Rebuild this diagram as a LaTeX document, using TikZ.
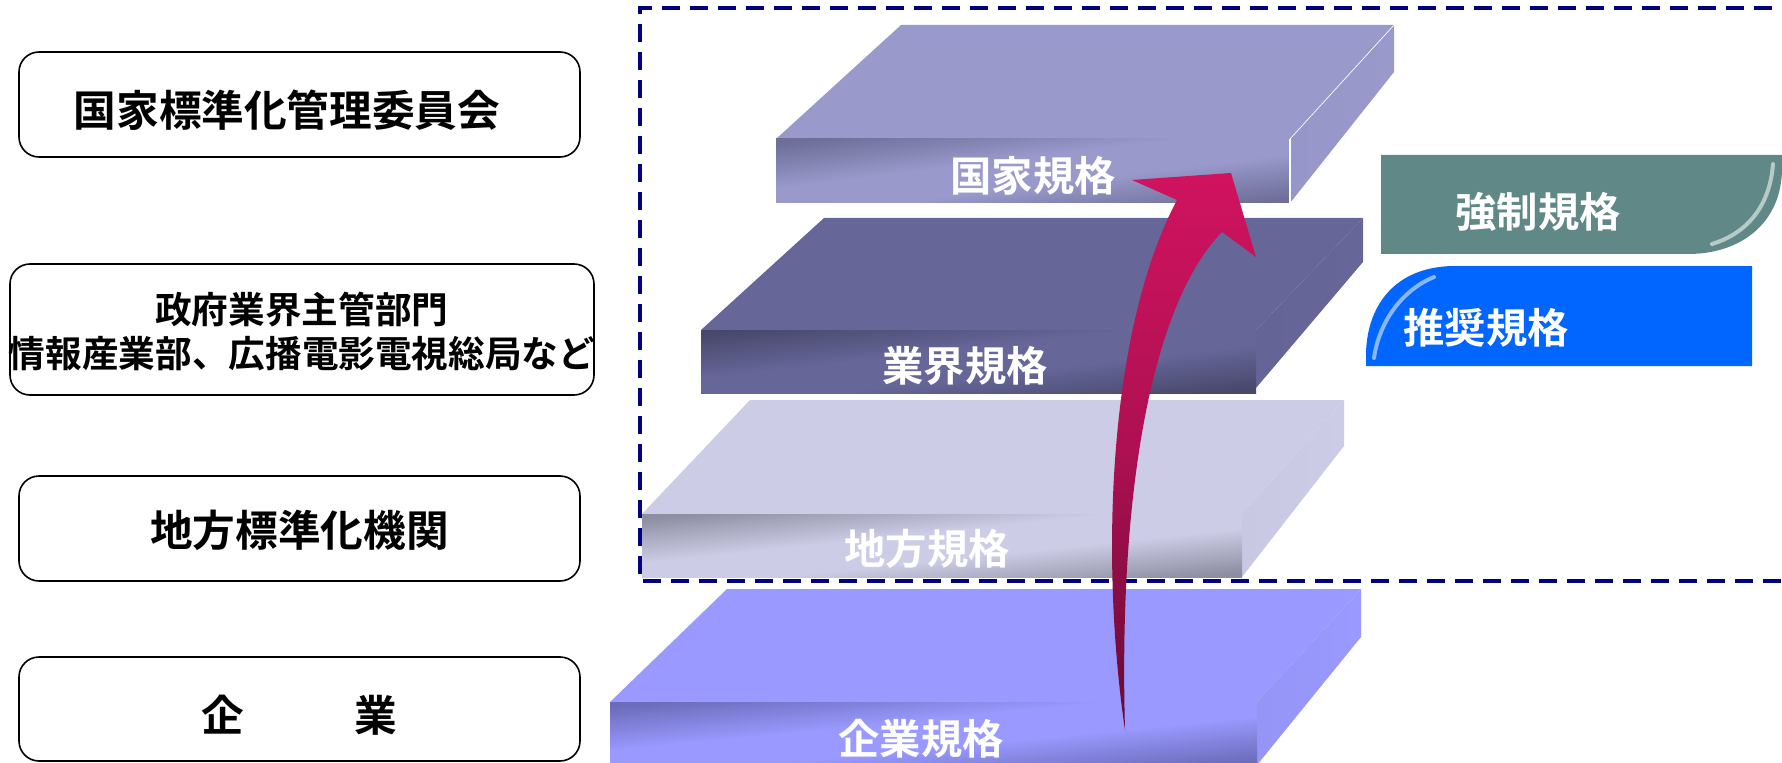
\documentclass[tikz,border=0pt]{standalone}
\usepackage{fontspec}
\setmainfont{Noto Sans CJK JP}
\newfontfamily\jpb{Noto Sans CJK JP Bold}
\definecolor{navy}{HTML}{000080}
\definecolor{sAtop}{HTML}{9999CC}
\definecolor{sAdark}{HTML}{6E6E98}
\definecolor{sAside}{HTML}{9696C8}
\definecolor{sBtop}{HTML}{666699}
\definecolor{sBdark}{HTML}{48486C}
\definecolor{sBside}{HTML}{646496}
\definecolor{sCtop}{HTML}{CCCCE6}
\definecolor{sCdark}{HTML}{8E8EA2}
\definecolor{sCside}{HTML}{C8C8E2}
\definecolor{sDtop}{HTML}{9999FF}
\definecolor{sDdark}{HTML}{6C6CBA}
\definecolor{sDside}{HTML}{9595F6}
\definecolor{teal1}{HTML}{608886}
\definecolor{teallight}{HTML}{B6CAC8}
\definecolor{blue1}{HTML}{0066FF}
\definecolor{bluelight}{HTML}{88B6FF}
\definecolor{arrtop}{HTML}{D0135F}
\definecolor{arrmid}{HTML}{AE1052}
\definecolor{arrbot}{HTML}{660A32}
\colorlet{faceD}{sAdark}
\colorlet{faceB}{sAtop}
\pgfdeclareverticalshading[faceD,faceB]{slabface}{100bp}{%
  color(0bp)=(faceD); color(17bp)=(faceD); color(42bp)=(faceB);
  color(58bp)=(faceB); color(83bp)=(faceD); color(100bp)=(faceD)}
\tikzset{
  lbox/.style={draw=black, line width=1.2pt, rounded corners=15pt, fill=white, inner sep=0pt},
  ltext/.style={font=\jpb\fontsize{32}{36}\selectfont, text=black, inner sep=0pt, align=center},
  stext/.style={font=\jpb\fontsize{31}{36}\selectfont, text=white, inner sep=0pt},
  dashbox/.style={draw=navy, line width=2.8pt, dash pattern=on 13.5pt off 7.5pt},
  seam/.style={draw=white, line width=1.2pt},
}
% front face of a slab: #1 = dark colour, #2 = base colour, (#3,#4) = top-left corner, #5 = width, #6 = height (px)
\newcommand{\frontface}[6]{%
  \begin{scope}
  \colorlet{faceD}{#1}\colorlet{faceB}{#2}%
  \shade[shading=slabface, shading angle=45,
         transform canvas={shift={(#3,#4)}, xscale=#5/100, yscale=#6/100}]
    (0,0) rectangle (100,100);
  \end{scope}}
\begin{document}
\begin{tikzpicture}[x=0.75pt,y=-0.75pt]
\useasboundingbox (0,0) rectangle (1782,763);
\clip (0,0) rectangle (1782,763);

% ---------- left boxes ----------
\node[lbox, minimum width=420.75pt, minimum height=78.75pt] (nat) at (299.5,104.5) {};
\node[ltext] (natT) at (287,110) {国家標準化管理委員会};
\node[lbox, minimum width=438pt, minimum height=98.25pt] (gov) at (302,329.5) {};
\node[ltext, font=\jpb\fontsize{27.5}{33}\selectfont] (govT) at (302,331)
      {政府業界主管部門\\情報産業部、広播電影電視総局など};
\node[lbox, minimum width=420.75pt, minimum height=78.75pt] (loc) at (299.5,528.5) {};
\node[ltext] (locT) at (299.5,530) {地方標準化機関};
\node[lbox, minimum width=420.75pt, minimum height=78pt] (ent) at (299.5,709) {};
\node[ltext] (entT) at (299.5,715) {企\hspace{83pt}業};

% ---------- slab 4 (企業規格) ----------
\fill[sDtop] (727,589) -- (1361,589) -- (1257,702) -- (610,702) -- cycle;
\shade[left color=sDside, right color=sDtop] (1257,702) -- (1361,589) -- (1361,637) -- (1257,765) -- cycle;
\frontface{sDdark}{sDtop}{610}{702}{647}{63}
\node[stext] (sd) at (921,739) {企業規格};

% ---------- slab 3 (地方規格) ----------
\fill[sCtop] (750,400) -- (1344,400) -- (1242,514) -- (642,514) -- cycle;
\shade[left color=sCside, right color=sCtop] (1242,514) -- (1344,400) -- (1344,446) -- (1242,577) -- cycle;
\frontface{sCdark}{sCtop}{642}{514}{600}{63}
\node[stext] (sc) at (927,549) {地方規格};

% ---------- slab 2 (業界規格) ----------
\fill[sBtop] (824,218) -- (1363,218) -- (1256,330) -- (701,330) -- cycle;
\shade[left color=sBside, right color=sBtop] (1256,330) -- (1363,218) -- (1363,262) -- (1256,388) -- cycle;
\frontface{sBdark}{sBtop}{701}{330}{555}{63}
\node[stext] (sb) at (965,366) {業界規格};

% ---------- slab 1 (国家規格) ----------
\fill[sAtop] (901,25) -- (1394,25) -- (1290,139) -- (776,139) -- cycle;
\shade[left color=sAside, right color=sAtop] (1290,139) -- (1394,25) -- (1394,72) -- (1290,203) -- cycle;
\frontface{sAdark}{sAtop}{776}{139}{514}{64}
\draw[seam] (1290,139) -- (1290,203);
\draw[white, line width=0.5pt] (1290,139) -- (1394,25);
\node[stext] (sa) at (1033,176) {国家規格};

% ---------- dashed frame ----------
\draw[dashbox] (1800,8) -- (640,8) -- (640,581) -- (1800,581);

% ---------- right boxes ----------
\fill[teal1] (1381,155) -- (1782,155) -- (1782,168) .. controls (1782,222) and (1742,254) .. (1688,254) -- (1381,254) -- cycle;
\draw[teallight, line width=3pt, line cap=round] (1773,164) .. controls (1770,205) and (1748,233) .. (1712,244);
\node[stext] (force) at (1538,212) {強制規格};

\fill[blue1] (1366,366) -- (1366,352) .. controls (1368,300) and (1400,266) .. (1455,266) -- (1752,266) -- (1752,366) -- cycle;
\draw[bluelight, line width=3pt, line cap=round] (1434,277) .. controls (1402,290) and (1379,322) .. (1374,358);
\node[stext] (rec) at (1486,328) {推奨規格};

% ---------- curved arrow ----------
\shade[top color=arrtop, bottom color=arrbot, middle color=arrmid]
  (1125,730) .. controls (1100,560) and (1108,330) .. (1177,200)
  -- (1132,180) -- (1231,173) -- (1256,257) -- (1222,232)
  .. controls (1155,300) and (1118,480) .. (1125,730) -- cycle;
\end{tikzpicture}
\end{document}
